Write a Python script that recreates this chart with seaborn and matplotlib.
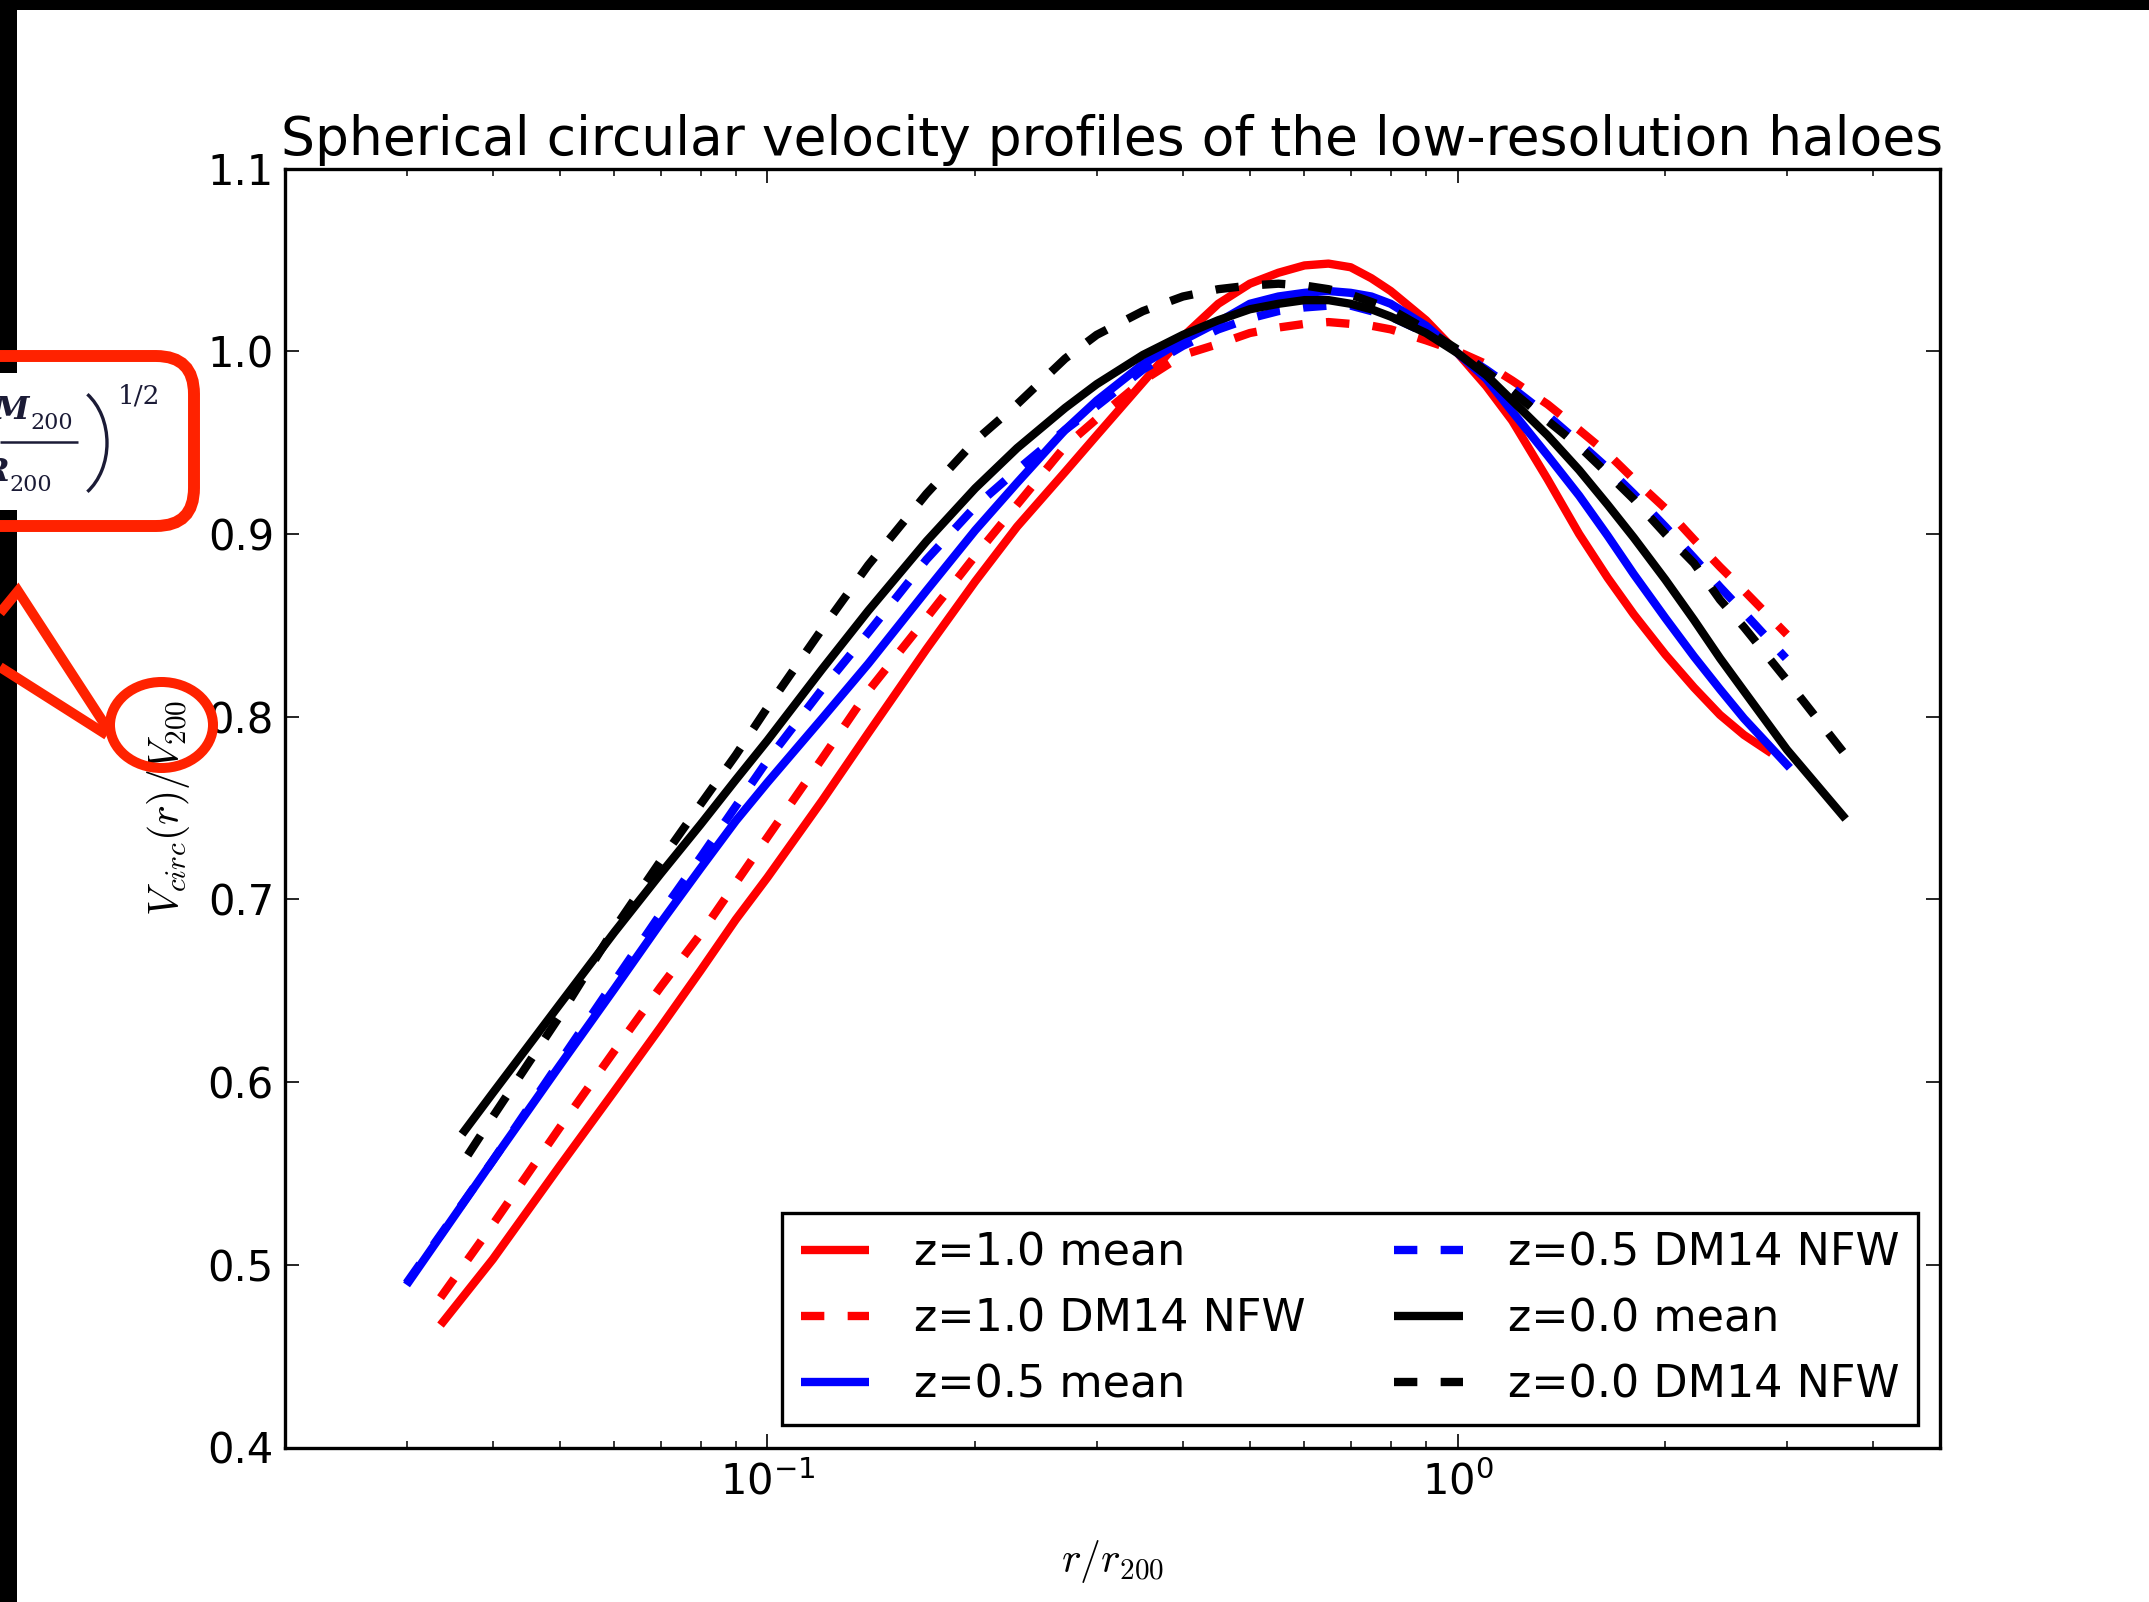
import matplotlib
matplotlib.use("Agg")
import matplotlib.pyplot as plt
import seaborn as sns
from matplotlib.patches import FancyBboxPatch, Ellipse, Arc, Rectangle
from matplotlib.ticker import FixedLocator, FormatStrFormatter

# ---------------- data ----------------
r_grid = [0.04, 0.05, 0.06, 0.07, 0.08, 0.09, 0.1, 0.12, 0.14, 0.17, 0.2, 0.23,
          0.27, 0.3, 0.35, 0.4, 0.45, 0.5, 0.55, 0.6, 0.65, 0.7, 0.75, 0.8, 0.9,
          1.0, 1.1, 1.2, 1.35, 1.5, 1.65, 1.8, 2.0, 2.2, 2.4, 2.6]

r_z10_mean = [0.0336] + r_grid + [2.85]
v_z10_mean = [0.467, 0.503, 0.554, 0.595, 0.630, 0.661, 0.689, 0.712, 0.754, 0.791,
              0.837, 0.874, 0.904, 0.934, 0.954, 0.983, 1.008, 1.026, 1.037, 1.043,
              1.047, 1.048, 1.046, 1.040, 1.033, 1.017, 0.999, 0.981, 0.962, 0.930,
              0.900, 0.876, 0.856, 0.834, 0.816, 0.801, 0.790, 0.780]

r_z10_nfw = [0.0336] + r_grid + [3.0]
v_z10_nfw = [0.482, 0.522, 0.575, 0.617, 0.652, 0.681, 0.709, 0.734, 0.777, 0.814,
             0.854, 0.888, 0.916, 0.948, 0.963, 0.984, 0.998, 1.004, 1.010, 1.013,
             1.015, 1.016, 1.015, 1.014, 1.012, 1.006, 1.000, 0.993, 0.984, 0.971,
             0.957, 0.944, 0.930, 0.914, 0.897, 0.882, 0.869, 0.845]

r_z05_mean = [0.030] + r_grid + [3.03]
v_z05_mean = [0.489, 0.557, 0.609, 0.651, 0.687, 0.717, 0.743, 0.764, 0.799, 0.829,
              0.869, 0.902, 0.928, 0.957, 0.973, 0.993, 1.006, 1.016, 1.026, 1.030,
              1.032, 1.033, 1.032, 1.030, 1.026, 1.014, 0.999, 0.985, 0.967, 0.943,
              0.921, 0.899, 0.878, 0.854, 0.833, 0.815, 0.799, 0.772]

r_z05_nfw = [0.030] + r_grid + [2.99]
v_z05_nfw = [0.490, 0.557, 0.611, 0.655, 0.692, 0.723, 0.751, 0.776, 0.815, 0.846,
             0.886, 0.915, 0.935, 0.957, 0.970, 0.990, 1.003, 1.012, 1.018, 1.022,
             1.024, 1.025, 1.025, 1.022, 1.019, 1.010, 1.000, 0.990, 0.980, 0.965,
             0.950, 0.936, 0.922, 0.904, 0.887, 0.871, 0.857, 0.832]

r_z00_mean = [0.0361] + r_grid + [3.0, 3.65]
v_z00_mean = [0.5715, 0.594, 0.6425, 0.682, 0.714, 0.741, 0.7655, 0.787, 0.826, 0.858,
              0.896, 0.925, 0.947, 0.969, 0.982, 0.998, 1.009, 1.017, 1.023, 1.026,
              1.028, 1.028, 1.026, 1.023, 1.019, 1.010, 0.999, 0.987, 0.973, 0.954,
              0.935, 0.916, 0.898, 0.875, 0.853, 0.832, 0.814, 0.782, 0.744]

r_z00_nfw = [0.0368] + r_grid + [3.0, 3.65]
v_z00_nfw = [0.560, 0.581, 0.636, 0.684, 0.721, 0.752, 0.779, 0.805, 0.848, 0.883,
             0.922, 0.951, 0.971, 0.996, 1.009, 1.022, 1.030, 1.034, 1.036, 1.037,
             1.036, 1.034, 1.031, 1.027, 1.023, 1.012, 1.001, 0.989, 0.978, 0.962,
             0.948, 0.933, 0.919, 0.900, 0.884, 0.864, 0.849, 0.820, 0.779]

labels = ["z=1.0 mean", "z=1.0 DM14 NFW", "z=0.5 mean",
          "z=0.5 DM14 NFW", "z=0.0 mean", "z=0.0 DM14 NFW"]
colors = ["#ff0000", "#ff0000", "#0000ff", "#0000ff", "#000000", "#000000"]
dashed = [False, True, False, True, False, True]
y_ticks = [0.4, 0.5, 0.6, 0.7, 0.8, 0.9, 1.0, 1.1]

title = "Spherical circular velocity profiles of the low-resolution haloes"
xlabel = r"$r/r_{200}$"
ylabel = r"$V_{circ}(r)/V_{200}$"

# ---------------- style ----------------
sns.set_style("ticks", {"xtick.direction": "in", "ytick.direction": "in",
                        "axes.edgecolor": "black"})
plt.rcParams["font.family"] = ["DejaVu Sans"]
plt.rcParams["mathtext.fontset"] = "dejavusans"
plt.rcParams["axes.unicode_minus"] = False
plt.rcParams["text.color"] = "black"
plt.rcParams["axes.labelcolor"] = "black"
plt.rcParams["xtick.color"] = "black"
plt.rcParams["ytick.color"] = "black"

W, H = 2149, 1602
fig = plt.figure(figsize=(W / 100, H / 100), dpi=100, facecolor="white")
ax_l, ax_r, ax_t, ax_b = 285, 1940, 168.6, 1447.5
ax = fig.add_axes([ax_l / W, 1 - ax_b / H, (ax_r - ax_l) / W, (ax_b - ax_t) / H])

series_r = [r_z10_mean, r_z10_nfw, r_z05_mean, r_z05_nfw, r_z00_mean, r_z00_nfw]
series_v = [v_z10_mean, v_z10_nfw, v_z05_mean, v_z05_nfw, v_z00_mean, v_z00_nfw]

lw = 6.0
for rr, vv, lab, col, dsh in zip(series_r, series_v, labels, colors, dashed):
    ls = (0, (2.8, 2.8)) if dsh else "-"
    sns.lineplot(x=rr, y=vv, ax=ax, color=col, lw=lw, linestyle=ls, label=lab,
                 estimator=None, sort=False, legend=False)

for ln in ax.get_lines():
    ln.set_dash_capstyle("butt")
    ln.set_solid_capstyle("butt")
    ln.set_solid_joinstyle("round")
    ln.set_dash_joinstyle("round")

ax.set_xscale("log")
ax.set_xlim(0.02, 5)
ax.set_ylim(0.4, 1.1)
ax.yaxis.set_major_locator(FixedLocator(y_ticks))
ax.yaxis.set_major_formatter(FormatStrFormatter("%.1f"))

for sp in ax.spines.values():
    sp.set_linewidth(2.4)
    sp.set_color("black")
    sp.set_visible(True)

ax.tick_params(which="both", direction="in", top=True, right=True, colors="black")
ax.tick_params(which="major", length=10, width=1.2)
ax.tick_params(which="minor", length=5, width=1.1)
ax.tick_params(axis="y", which="major", labelsize=30, pad=8)
ax.tick_params(axis="x", which="major", labelsize=30, pad=10)

ax.set_title(title, fontsize=38.5, pad=10, color="black")
ax.set_xlabel(xlabel, fontsize=30, math_fontfamily="cm")
ax.set_ylabel(ylabel, fontsize=30, math_fontfamily="cm")
ax.xaxis.set_label_coords(0.5, -0.071)
ax.yaxis.set_label_coords(-0.056, 0.5)
ax.grid(False)

handles = ax.get_lines()[:6]
leg = ax.legend(handles, labels, ncol=2, loc="lower right", fontsize=32,
                frameon=True, fancybox=False, framealpha=1, edgecolor="black",
                borderpad=0.42, labelspacing=0.52, handlelength=1.55,
                handletextpad=1.0, columnspacing=2.0, borderaxespad=0.5)
leg.get_frame().set_linewidth(2.4)

# ---------------- screenshot annotation overlay ----------------
ov = fig.add_axes([0, 0, 1, 1], zorder=10)
ov.set_xlim(0, W)
ov.set_ylim(H, 0)
ov.axis("off")
ov.patch.set_alpha(0)

RED = "#ff2200"
INK = "#1b1b36"
ov.add_patch(Rectangle((0, 0), W, 10, color="black", lw=0))
ov.add_patch(Rectangle((0, 0), 17, 373, color="black", lw=0))
ov.add_patch(Rectangle((0, 510), 17, H - 510, color="black", lw=0))

# formula fragment
ov.text(29, 419, "M", fontsize=23, family="DejaVu Serif", style="italic",
        weight="bold", color=INK, ha="right", va="baseline")
ov.text(30, 429, "200", fontsize=16, family="DejaVu Serif", color=INK,
        ha="left", va="baseline")
ov.plot([0, 78], [442, 442], color=INK, lw=1.8, solid_capstyle="butt")
ov.text(9, 481, "R", fontsize=23, family="DejaVu Serif", style="italic",
        weight="bold", color=INK, ha="right", va="baseline")
ov.text(9, 491, "200", fontsize=16, family="DejaVu Serif", color=INK,
        ha="left", va="baseline")
ov.add_patch(Arc((60, 443), 94, 120, theta1=-60.7, theta2=60.7, color=INK, lw=2.4))
ov.text(118, 403, "1/2", fontsize=19, family="DejaVu Serif", color=INK,
        ha="left", va="baseline")

ov.add_patch(FancyBboxPatch((-80, 356), 274, 170,
                            boxstyle="round,pad=0,rounding_size=38",
                            fc="none", ec=RED, lw=8.6))
ov.add_patch(Ellipse((161.5, 725), 103, 86, fc="none", ec=RED, lw=7.2))
ov.plot([0, 18, 107], [613, 591, 728], color=RED, lw=7.2,
        solid_joinstyle="miter", solid_capstyle="butt")
ov.plot([0, 107], [667, 735], color=RED, lw=7.2, solid_capstyle="butt")

fig.savefig("out.png", dpi=100, facecolor="white")
